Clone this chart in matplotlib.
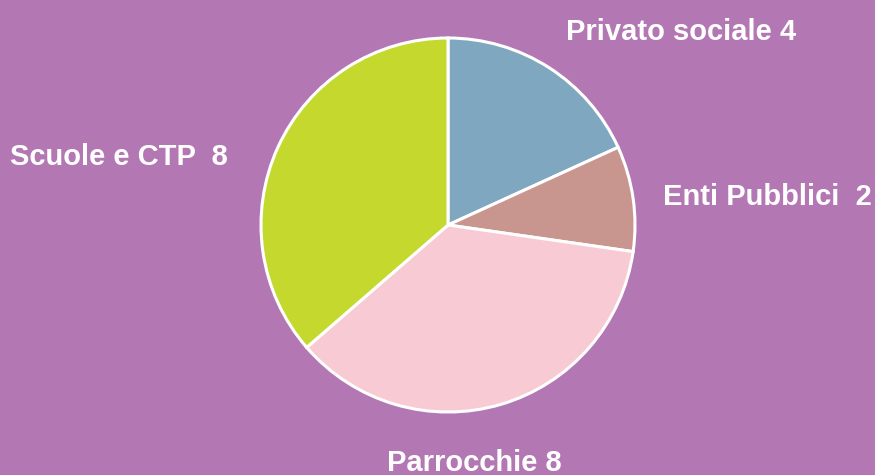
import matplotlib.pyplot as plt

labels = ["Privato sociale 4", "Enti Pubblici  2", "Parrocchie 8", "Scuole e CTP  8"]
values = [4, 2, 8, 8]
colors = ["#7FA8C0", "#C8958F", "#F8CAD4", "#C5D82D"]
bg = "#B378B4"

fig = plt.figure(figsize=(8.75, 4.75), dpi=100, facecolor=bg)
ax = fig.add_axes([0, 0, 1, 1])
ax.set_facecolor(bg)

ax.pie(values, colors=colors, startangle=90, counterclock=False,
       wedgeprops=dict(edgecolor="white", linewidth=2.2))

# keep the pie at its place in the frame (radius 1 = 187 px)
r = 187.0
ax.set_xlim(-448 / r, 427 / r)
ax.set_ylim(-250 / r, 225 / r)
ax.set_aspect("auto")
ax.axis("off")

txt = dict(color="white", fontsize=21, fontweight="bold", family="Liberation Sans", va="center")
ax.text(1.246, 1.032, labels[0], ha="center", **txt)
ax.text(1.150, 0.150, labels[1], ha="left", **txt)
ax.text(0.139, -1.273, labels[2], ha="center", **txt)
ax.text(-2.342, 0.364, labels[3], ha="left", **txt)

fig.savefig("out.png", dpi=100, facecolor=bg)
